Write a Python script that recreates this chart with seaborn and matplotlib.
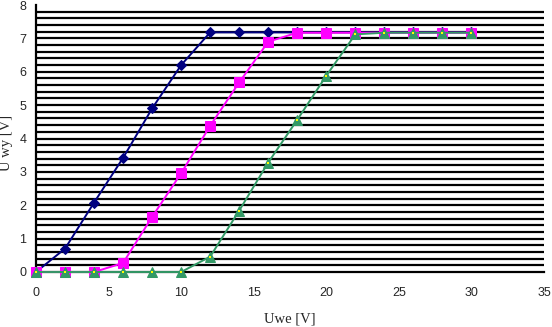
import numpy as np
import pandas as pd
import matplotlib
matplotlib.use("Agg")
import matplotlib.pyplot as plt
import seaborn as sns

# Data
u_we = [0, 2, 4, 6, 8, 10, 12, 14, 16, 18, 20, 22, 24, 26, 28, 30]
series_a = [0, 0.7, 2.08, 3.42, 4.9, 6.2, 7.18, 7.18, 7.18, 7.18, 7.18, 7.18, 7.18, 7.18, 7.18, 7.18]
series_b = [0, 0, 0, 0.27, 1.65, 2.96, 4.38, 5.68, 6.9, 7.17, 7.17, 7.17, 7.17, 7.17, 7.17, 7.17]
series_c = [0, 0, 0, 0, 0, 0, 0.46, 1.84, 3.28, 4.56, 5.88, 7.12, 7.17, 7.17, 7.17, 7.17]

x_ticks = [0, 5, 10, 15, 20, 25, 30, 35]
y_ticks = [0, 1, 2, 3, 4, 5, 6, 7, 8]

sns.set_style("white")

fig = plt.figure(figsize=(5.52, 3.27), dpi=100)
ax = fig.add_axes([36 / 552, 1 - 272 / 327, (544 - 36) / 552, (272 - 5) / 327])

# horizontal grid every 0.2
for g in np.arange(0.2, 7.81, 0.2):
    ax.axhline(g, color="black", lw=1.6, zorder=0)

df = pd.DataFrame({"x": u_we, "a": series_a, "b": series_b, "c": series_c})

sns.lineplot(data=df, x="x", y="a", ax=ax, color="#000080", lw=1.4,
             marker="D", markersize=5, markeredgecolor="#000080", zorder=3, clip_on=False)
sns.lineplot(data=df, x="x", y="b", ax=ax, color="#FF00FF", lw=1.4,
             marker="s", markersize=6.5, markeredgecolor="#FF00FF", zorder=4, clip_on=False)
sns.lineplot(data=df, x="x", y="c", ax=ax, color="#339966", lw=1.4,
             marker="^", markersize=6.5, markeredgecolor="#339966", zorder=5, clip_on=False)
sns.scatterplot(data=df, x="x", y="c", ax=ax, color="#FFFF00", marker="s",
                s=3, linewidth=0, zorder=6, clip_on=False)

ax.set_xlim(0, 35)
ax.set_ylim(0, 8)
ax.set_xticks(x_ticks)
ax.set_yticks(y_ticks)
ax.set_xticklabels([str(t) for t in x_ticks], family="Liberation Sans", fontsize=9)
ax.set_yticklabels([str(t) for t in y_ticks], family="Liberation Sans", fontsize=9)
ax.tick_params(axis="both", direction="out", length=4, width=1.5, color="black")
ax.tick_params(axis="x", pad=7)
ax.tick_params(axis="y", pad=3)

for s in ["top", "right"]:
    ax.spines[s].set_visible(False)
for s in ["left", "bottom"]:
    ax.spines[s].set_color("black")
    ax.spines[s].set_linewidth(1.6)

ax.set_xlabel("Uwe [V]", family="Liberation Serif", fontsize=10.5)
ax.set_ylabel("U wy [V]", family="Liberation Serif", fontsize=10.5)
ax.yaxis.set_label_coords(-0.045, 0.485)
ax.xaxis.set_label_coords(0.499, -0.176)
ax.xaxis.label.set_va("center")
ax.grid(False)

fig.savefig("out.png", dpi=100)
